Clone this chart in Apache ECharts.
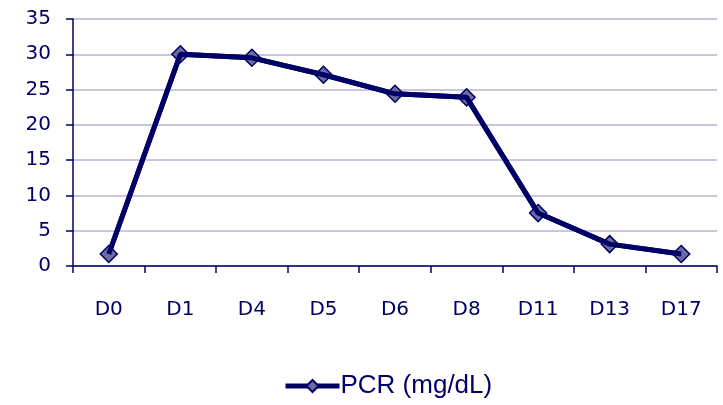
<!DOCTYPE html>
<html><head><meta charset="utf-8">
<script src="https://cdn.jsdelivr.net/npm/echarts@6/dist/echarts.min.js"></script>
<style>html,body{margin:0;padding:0;background:#fff}#c{width:723px;height:405px}</style>
</head><body><div id="c"></div>
<script>
const categories = ["D0","D1","D4","D5","D6","D8","D11","D13","D17"];
const pcrValues = [1.7, 30.0, 29.5, 27.1, 24.4, 23.9, 7.5, 3.1, 1.7];
const seriesName = "PCR (mg/dL)";
const yTicks = {min: 0, max: 35, interval: 5};

const navy = "#000066";
const chart = echarts.init(document.getElementById('c'), null, {renderer: 'canvas'});
chart.setOption({
  animation: false,
  grid: {left: 73, right: 6, top: 19, bottom: 139},
  legend: {
    bottom: 1, left: 278,
    itemWidth: 54, itemHeight: 15, itemGap: 4,
    lineStyle: {width: 5},
    textStyle: {fontFamily: 'Liberation Sans, Arial', fontSize: 26, color: navy, padding: [0,0,0,-4]},
    data: [{name: seriesName}]
  },
  xAxis: {
    type: 'category', data: categories, boundaryGap: true,
    axisLine: {lineStyle: {color: navy, width: 1.5}},
    axisTick: {show: true, length: 7, lineStyle: {color: navy, width: 1.5}},
    axisLabel: {margin: 34, fontFamily: 'DejaVu Sans', fontSize: 20, color: navy}
  },
  yAxis: {
    type: 'value', min: yTicks.min, max: yTicks.max, interval: yTicks.interval,
    axisLine: {show: true, lineStyle: {color: navy, width: 1.5}},
    axisTick: {show: true, inside: false, length: 7, lineStyle: {color: navy, width: 1.5}},
    axisLabel: {margin: 22, fontFamily: 'DejaVu Sans', fontSize: 20, color: navy},
    splitLine: {lineStyle: {color: '#b4b4d2', width: 1.5}}
  },
  series: [{
    name: seriesName, type: 'line', data: pcrValues, z: 2,
    symbol: 'diamond', symbolSize: 17,
    lineStyle: {color: navy, width: 5},
    itemStyle: {color: '#6c6ca0', borderColor: navy, borderWidth: 1.5}
  }, {
    name: '_lineOnTop', type: 'line', data: pcrValues, z: 3,
    symbol: 'none', silent: true,
    lineStyle: {color: navy, width: 5}
  }]
});
</script></body></html>
